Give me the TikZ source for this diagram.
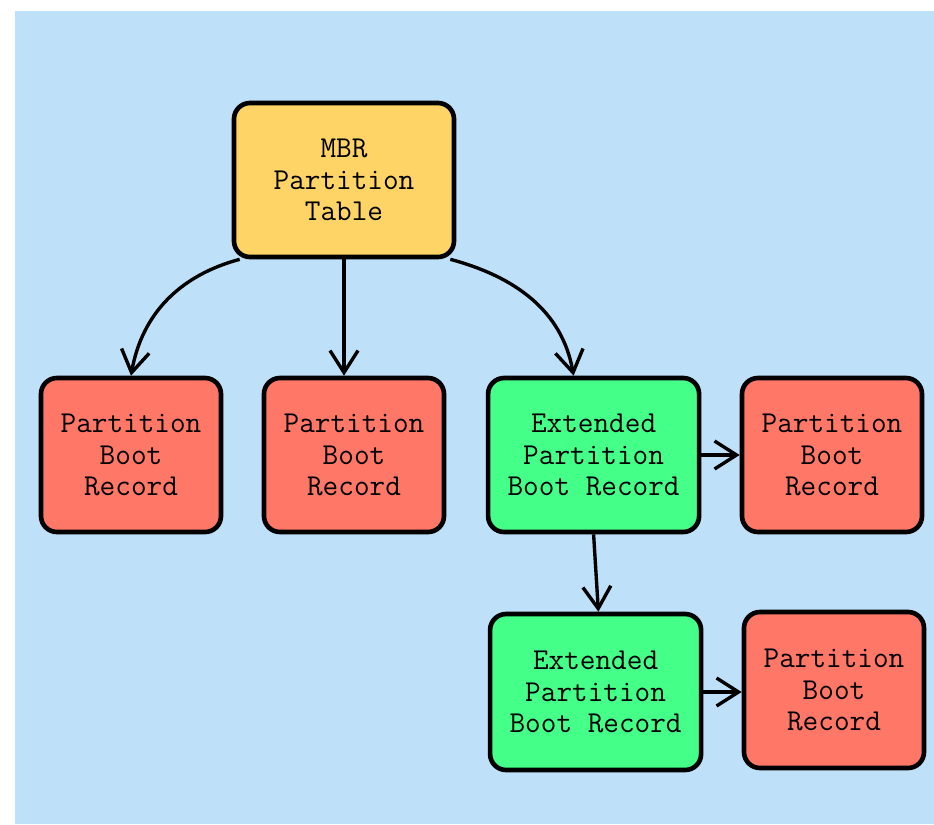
\documentclass[tikz,border=0pt]{standalone}
\usepackage{fontspec}
\usetikzlibrary{arrows.meta}

\definecolor{skyback}{HTML}{BEE0F8}
\definecolor{mbryellow}{HTML}{FFD466}
\definecolor{pbrred}{HTML}{FF7766}
\definecolor{extgreen}{HTML}{44FF88}

\tikzset{
  recbox/.style={draw, line width=3.3pt, rounded corners=0.4cm, align=center,
    minimum width=4.5cm, minimum height=3.85cm,
    font=\ttfamily\fontsize{21.6}{22.4}\selectfont},
  pbr/.style={recbox, fill=pbrred},
  epbr/.style={recbox, fill=extgreen, minimum width=5.275cm},
  link/.style={line width=2.4pt, -{Straight Barb[length=0.55cm,width=0.7cm]}}
}

\begin{document}
\begin{tikzpicture}
	\useasboundingbox (0,0) rectangle (23.35,-20.6);
	\fill [skyback] (0.375,-0.275) rectangle (23.35,-20.6);
	\node [recbox, fill=mbryellow, minimum width=5.5cm] (mbr) at (8.6,-4.5) {MBR\\Partition\\Table};
	\node [pbr] (pbra) at (3.275,-11.375) {Partition\\Boot\\Record};
	\node [pbr] (pbrb) at (8.85,-11.375) {Partition\\Boot\\Record};
	\node [epbr] (epbra) at (14.84,-11.375) {Extended\\Partition\\Boot Record};
	\node [pbr] (pbrc) at (20.8,-11.375) {Partition\\Boot\\Record};
	\node [epbr, minimum height=3.9cm] (epbrb) at (14.89,-17.3) {Extended\\Partition\\Boot Record};
	\node [pbr, minimum height=3.9cm] (pbrd) at (20.85,-17.25) {Partition\\Boot\\Record};
	\draw [link] ([xshift=0.2cm]mbr.south west) to [out=195,in=80] (pbra.north);
	\draw [link] (mbr.south) -- (mbr.south |- pbrb.north);
	\draw [link] ([xshift=-0.15cm]mbr.south east) to [out=-15,in=100] ([xshift=-0.5cm]epbra.north);
	\draw [link] (epbra.south) -- ([xshift=0.07cm]epbrb.north);
	\draw [link] (epbra.east |- pbrc.west) -- (pbrc.west);
	\draw [link] (epbrb) -- (epbrb -| pbrd.west);
\end{tikzpicture}
\end{document}
